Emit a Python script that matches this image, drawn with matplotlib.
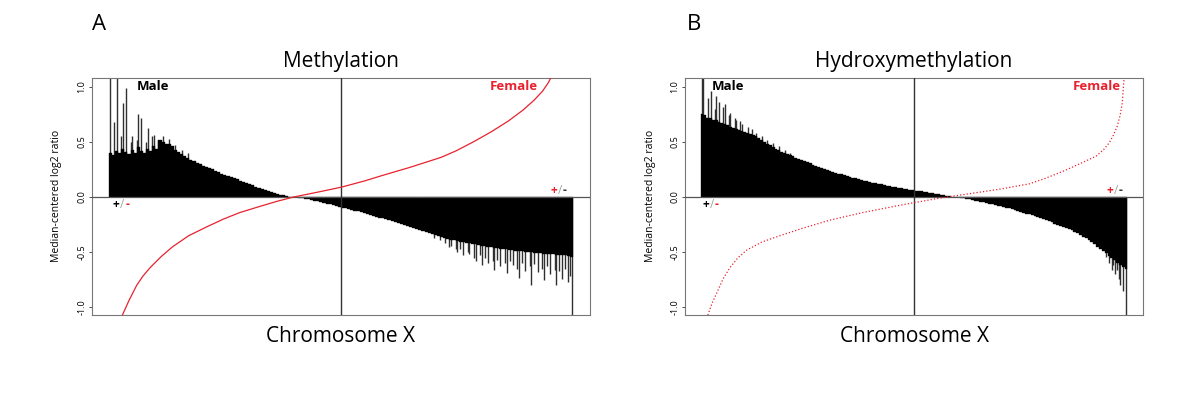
import numpy as np
import matplotlib
matplotlib.use("Agg")
import matplotlib.pyplot as plt
import matplotlib.transforms as mtransforms

plt.rcParams['font.family'] = ['Open Sans', 'DejaVu Sans']

# ---------------- data ----------------
panel_letters = ["A", "B"]
panel_titles = ["Methylation", "Hydroxymethylation"]
x_label = "Chromosome X"
y_label = "Median-centered log2 ratio"
y_ticks = [-1.0, -0.5, 0.0, 0.5, 1.0]
y_tick_labels = ["-1.0", "-0.5", "0.0", "0.5", "1.0"]

# Male (sorted) median-centered log2 ratios, panel A (methylation): dense body of bars
male_meth = [
    0.40, 0.38, 0.42, 0.40, 0.44, 0.41, 0.39, 0.43, 0.40, 0.45,
    0.42, 0.40, 0.44, 0.42, 0.46, 0.44, 0.52, 0.50, 0.48, 0.48,
    0.46, 0.43, 0.41, 0.39, 0.37, 0.35, 0.34, 0.33, 0.31, 0.30,
    0.28, 0.27, 0.26, 0.25, 0.235, 0.225, 0.21, 0.20, 0.19, 0.18,
    0.17, 0.16, 0.15, 0.14, 0.13, 0.115, 0.105, 0.095, 0.085, 0.075,
    0.065, 0.055, 0.045, 0.037, 0.030, 0.023, 0.016, 0.010, 0.005, 0.0,
    -0.004, -0.008, -0.012, -0.017, -0.022, -0.027, -0.033, -0.040, -0.046, -0.053,
    -0.060, -0.067, -0.074, -0.081, -0.088, -0.095, -0.102, -0.109, -0.116, -0.123,
    -0.130, -0.138, -0.146, -0.154, -0.162, -0.170, -0.178, -0.186, -0.194, -0.202,
    -0.210, -0.218, -0.226, -0.234, -0.243, -0.252, -0.261, -0.270, -0.279, -0.288,
    -0.297, -0.306, -0.315, -0.325, -0.335, -0.345, -0.355, -0.365, -0.372, -0.38,
    -0.387, -0.394, -0.40, -0.405, -0.41, -0.415, -0.42, -0.425, -0.43, -0.435,
    -0.44, -0.445, -0.45, -0.455, -0.46, -0.465, -0.47, -0.47, -0.475, -0.48,
    -0.48, -0.485, -0.49, -0.49, -0.495, -0.50, -0.50, -0.505, -0.51, -0.51,
    -0.515, -0.52, -0.52, -0.52, -0.525, -0.53, -0.53, -0.53, -0.535, -0.54,
]
# individual outlying probes (rank position, value), panel A
meth_spike_pos = [0, 1, 2, 3.5, 4, 5, 6.5, 7, 8.5, 9, 10, 11.5, 12, 13.5, 14, 15.5,
                  17, 19, 21, 23, 25,
                  104.5, 106.5, 108, 109.5, 110, 111.5, 112, 113, 114, 115.5, 116, 117.5, 118, 119.5,
                  120, 121, 122, 123.5, 124, 125, 126, 127.5, 128, 129, 130, 131.5,
                  132, 133, 134, 135.5, 136, 137, 138, 139.5, 140, 141, 142, 143.5,
                  144, 145, 146, 147, 148, 148.5, 149]
meth_spike_val = [1.20, 0.68, 1.20, 0.55, 0.85, 0.99, 0.50, 0.55, 0.52, 0.75, 0.72, 0.50, 0.63, 0.55, 0.56, 0.52,
                  0.55, 0.53, 0.47, 0.43, 0.40,
                  -0.37, -0.39, -0.42, -0.45, -0.44, -0.47, -0.50, -0.47, -0.53, -0.50, -0.52, -0.55, -0.58, -0.53,
                  -0.62, -0.55, -0.60, -0.58, -0.66, -0.57, -0.63, -0.60, -0.69, -0.58, -0.62, -0.65,
                  -0.73, -0.60, -0.67, -0.63, -0.80, -0.61, -0.68, -0.65, -0.75, -0.63, -0.70, -0.66,
                  -0.80, -0.67, -0.74, -0.65, -0.77, -0.72, -1.20]

# Male (sorted) median-centered log2 ratios, panel B (hydroxymethylation)
male_hmeth = [
    0.75, 0.74, 0.72, 0.72, 0.70, 0.70, 0.68, 0.67, 0.66, 0.65,
    0.64, 0.63, 0.62, 0.61, 0.60, 0.59, 0.58, 0.57, 0.565, 0.555,
    0.54, 0.52, 0.50, 0.485, 0.47, 0.455, 0.44, 0.425, 0.41, 0.40,
    0.39, 0.38, 0.37, 0.355, 0.345, 0.335, 0.325, 0.315, 0.305, 0.295,
    0.285, 0.275, 0.265, 0.255, 0.245, 0.235, 0.228, 0.22, 0.212, 0.205,
    0.197, 0.19, 0.183, 0.176, 0.17, 0.163, 0.156, 0.15, 0.144, 0.138,
    0.132, 0.126, 0.12, 0.114, 0.108, 0.103, 0.098, 0.093, 0.088, 0.083,
    0.079, 0.075, 0.071, 0.067, 0.063, 0.059, 0.055, 0.051, 0.047, 0.043,
    0.039, 0.035, 0.031, 0.027, 0.023, 0.018, 0.013, 0.008, 0.004, 0.0,
    -0.004, -0.008, -0.012, -0.017, -0.022, -0.027, -0.032, -0.037, -0.042, -0.048,
    -0.054, -0.060, -0.066, -0.072, -0.078, -0.084, -0.090, -0.096, -0.103, -0.110,
    -0.118, -0.126, -0.134, -0.142, -0.150, -0.158, -0.166, -0.175, -0.184, -0.193,
    -0.202, -0.211, -0.220, -0.230, -0.240, -0.250, -0.260, -0.270, -0.280, -0.290,
    -0.300, -0.315, -0.330, -0.345, -0.360, -0.375, -0.390, -0.410, -0.430, -0.450,
    -0.470, -0.490, -0.510, -0.535, -0.555, -0.575, -0.595, -0.615, -0.635, -0.655,
]
hmeth_spike_pos = [0, 0.5, 2, 3, 4.5, 5, 6, 7.5, 8, 9.5, 10, 11.5, 12, 13.5, 14, 16, 17.5,
                   19, 21, 23, 25, 27, 29, 31,
                   142, 143, 144, 144.5, 145, 146, 146.5, 147, 148, 149]
hmeth_spike_val = [1.20, 1.20, 0.90, 0.96, 0.80, 0.92, 0.86, 0.82, 0.84, 0.74, 0.76, 0.72, 0.70, 0.69, 0.66, 0.64, 0.62,
                   0.58, 0.55, 0.52, 0.49, 0.46, 0.43, 0.40,
                   -0.54, -0.60, -0.66, -0.62, -0.70, -0.66, -0.74, -0.80, -0.85, -1.20]

# Female sorted profile: rank fraction along chromosome and value
female_meth_rank = [0.012, 0.026, 0.040, 0.057, 0.070, 0.085, 0.110, 0.135, 0.170, 0.209,
                    0.245, 0.281, 0.320, 0.360, 0.397, 0.45, 0.501, 0.55, 0.593, 0.65,
                    0.717, 0.75, 0.789, 0.825, 0.863, 0.895, 0.919, 0.937, 0.950, 0.975]
female_meth_val = [-1.35, -1.07, -0.94, -0.80, -0.72, -0.645, -0.54, -0.45, -0.35, -0.27,
                   -0.20, -0.14, -0.09, -0.04, 0.0, 0.045, 0.09, 0.145, 0.20, 0.27,
                   0.36, 0.42, 0.505, 0.59, 0.69, 0.79, 0.88, 0.96, 1.04, 1.25]

female_hmeth_rank = [0.005, 0.014, 0.024, 0.035, 0.050, 0.066, 0.085, 0.106, 0.140, 0.184,
                     0.240, 0.301, 0.38, 0.473, 0.560, 0.63, 0.70, 0.772, 0.81, 0.849,
                     0.89, 0.929, 0.947, 0.960, 0.970, 0.979, 0.986, 0.991, 0.995, 0.999]
female_hmeth_val = [-1.40, -1.07, -0.96, -0.87, -0.74, -0.64, -0.55, -0.48, -0.41, -0.35,
                    -0.28, -0.21, -0.14, -0.07, -0.01, 0.03, 0.07, 0.12, 0.17, 0.23,
                    0.30, 0.37, 0.43, 0.49, 0.56, 0.64, 0.74, 0.85, 1.06, 1.30]

male_series = [male_meth, male_hmeth]
spike_pos = [meth_spike_pos, hmeth_spike_pos]
spike_val = [meth_spike_val, hmeth_spike_val]
female_ranks = [female_meth_rank, female_hmeth_rank]
female_vals = [female_meth_val, female_hmeth_val]
female_styles = ["-", ":"]

# ---------------- figure ----------------
W, H = 1200, 404
fig = plt.figure(figsize=(W / 100, H / 100), dpi=100)

axes_px = [(92, 590), (685, 1143)]
top_px, bot_px = 78, 315
letter_px = [92, 687]
RED = "#e8222e"

def place_pm(ax, x_frac, y_frac, colors, ha="left"):
    chars = ["+", "/", "-"]
    widths = [5.2, 3.6, 4.0]  # points
    total = sum(widths)
    off = 0 if ha == "left" else -total
    for ch, c, w in zip(chars, colors, widths):
        tr = mtransforms.offset_copy(ax.transAxes, fig=fig, x=off, y=0, units="points")
        ax.text(x_frac, y_frac, ch, transform=tr, color=c, fontsize=8.5,
                fontweight="bold" if ch != "/" else "normal",
                ha="left", va="center")
        off += w

for k in range(2):
    l, r = axes_px[k]
    ax = fig.add_axes([l / W, 1 - bot_px / H, (r - l) / W, (bot_px - top_px) / H])
    vals = np.array(male_series[k])
    n = len(vals)
    xs = np.arange(n)
    ax.vlines(spike_pos[k], 0, spike_val[k], color="#303030", lw=1.0, zorder=1)
    ax.bar(xs, vals, width=1.0, color="black", edgecolor="black", linewidth=0.25, zorder=2)
    fr = np.array(female_ranks[k]) * (n - 1)
    ax.plot(fr, female_vals[k], color=RED, lw=0.9, ls=female_styles[k], zorder=4)
    ax.axhline(0, color="#555555", lw=0.9, zorder=3)
    ax.axvline((n - 1) / 2, color="#333333", lw=1.0, zorder=3)
    pad = 0.04 * (n - 1)
    ax.set_xlim(-pad, n - 1 + pad)
    ax.set_ylim(-1.07, 1.08)
    ax.set_xticks([])
    ax.set_yticks(y_ticks)
    ax.set_yticklabels(y_tick_labels, rotation=90, va="center", fontsize=6.5)
    ax.tick_params(axis="y", length=2.5, width=0.6, pad=1.5, color="#333333")
    for s in ax.spines.values():
        s.set_color("#777777")
        s.set_linewidth(0.8)

    ax.text(0.090 if k == 0 else 0.059, 0.966, "Male", transform=ax.transAxes,
            fontsize=9.5, fontweight="bold", color="black", ha="left", va="center")
    ax.text(0.896 if k == 0 else 0.952, 0.966, "Female", transform=ax.transAxes,
            fontsize=9.5, fontweight="bold", color=RED, ha="right", va="center")
    place_pm(ax, 0.042 if k == 0 else 0.039, 0.468, ["black", "#9aa89a", RED], ha="left")
    place_pm(ax, 0.956 if k == 0 else 0.959, 0.527, [RED, "#9aa89a", "#333333"], ha="right")

    cx = (l + r) / 2 / W
    fig.text(cx, 1 - 62 / H, panel_titles[k], ha="center", va="center", fontsize=15)
    fig.text(cx, 1 - 337 / H, x_label, ha="center", va="center", fontsize=15)
    fig.text(letter_px[k] / W, 1 - 25 / H, panel_letters[k], ha="left", va="center", fontsize=16)
    fig.text((l - 35) / W, 1 - 196 / H, y_label, rotation=90, ha="center", va="center", fontsize=7.5)

fig.savefig("out.png", dpi=100, facecolor="white")
